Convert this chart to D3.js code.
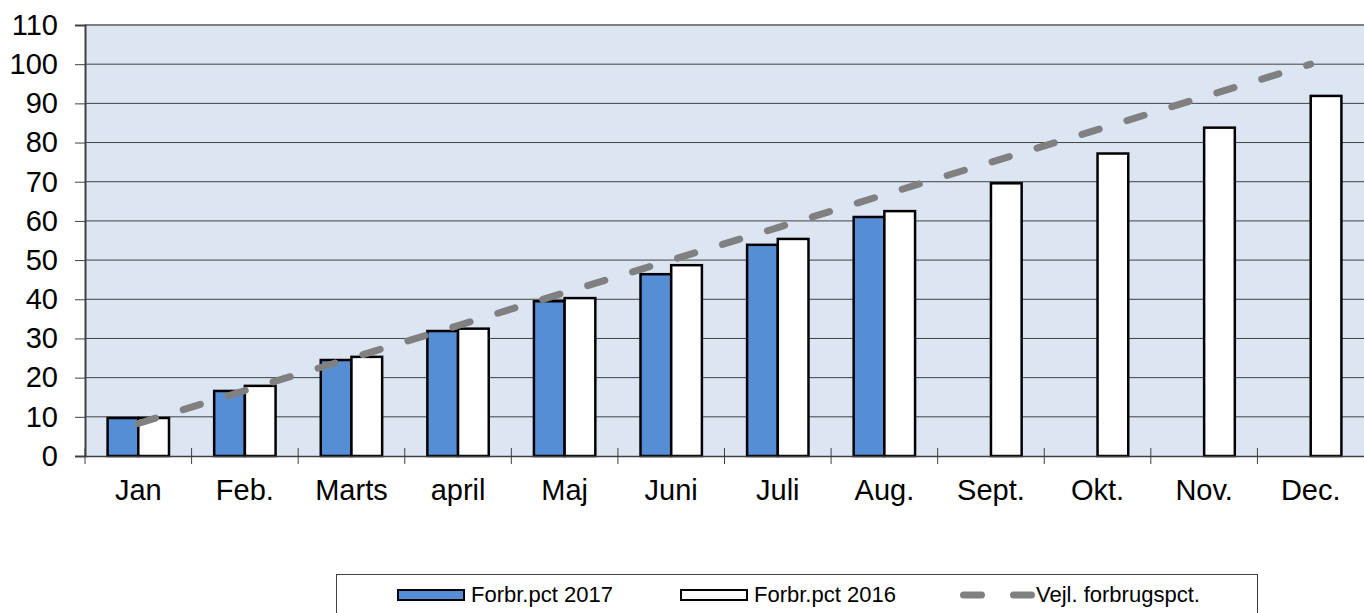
<!DOCTYPE html>
<html><head><meta charset="utf-8">
<script src="https://cdn.jsdelivr.net/npm/d3@7"></script>
<style>body{margin:0;background:#fff}svg{display:block;font-family:"Liberation Sans",Arial,sans-serif}</style>
</head><body><svg id="c" width="1364" height="613"></svg>
<script>
const categories = ["Jan","Feb.","Marts","april","Maj","Juni","Juli","Aug.","Sept.","Okt.","Nov.","Dec."];
const pct2017 = [9.7,16.6,24.5,31.9,39.5,46.4,53.9,61.0,null,null,null,null];
const pct2016 = [9.7,17.9,25.3,32.5,40.3,48.7,55.4,62.5,69.6,77.2,83.8,91.9];
const vejl = [8.3,16.7,25.0,33.3,41.7,50.0,58.3,66.7,75.0,83.3,91.7,100.0];
const yTicks = [0,10,20,30,40,50,60,70,80,90,100,110];
const seriesNames = ["Forbr.pct 2017","Forbr.pct 2016","Vejl. forbrugspct."];

const svg = d3.select("#c");
const L = 85, R = 1364, T = 25, B = 456;
const x = d3.scaleBand().domain(categories).range([L, R]);
const y = d3.scaleLinear().domain([0,110]).range([B, T]);
const barW = x.bandwidth()*0.288;
const FONT = "Liberation Sans, Arial, sans-serif";

svg.append("rect").attr("x",L).attr("y",T).attr("width",R-L).attr("height",B-T).attr("fill","#dce6f2");
// gridlines
svg.append("g").selectAll("line").data(yTicks.filter(d=>d>0)).join("line")
  .attr("x1",L).attr("x2",R).attr("y1",d=>y(d)).attr("y2",d=>y(d))
  .attr("stroke",d=>d===110?"#7f7f7f":"#404040").attr("stroke-width",d=>d===110?2:1);

// y axis
const ya = svg.append("g").attr("transform",`translate(${L},0)`)
  .call(d3.axisLeft(y).tickValues(yTicks).tickSize(10).tickPadding(17));
ya.select(".domain").attr("stroke","#404040").attr("stroke-width",2);
ya.selectAll(".tick line").attr("stroke","#404040");
ya.selectAll("text").attr("font-size",29).attr("fill","#000").attr("font-family",FONT);

// bars
const g = svg.append("g");
categories.forEach((c,i)=>{
  const cx = x(c)+x.bandwidth()/2;
  if (pct2017[i]!=null) g.append("rect").attr("x",cx-barW).attr("y",y(pct2017[i])).attr("width",barW).attr("height",B-y(pct2017[i]))
     .attr("fill","#558ed5").attr("stroke","#000").attr("stroke-width",2.5);
  g.append("rect").attr("x",cx).attr("y",y(pct2016[i])).attr("width",barW).attr("height",B-y(pct2016[i]))
     .attr("fill","#fff").attr("stroke","#000").attr("stroke-width",2.5);
});

// x axis
const xa = svg.append("g").attr("transform",`translate(0,${B})`)
  .call(d3.axisBottom(x).tickSize(0).tickPadding(23));
xa.select(".domain").attr("stroke","#404040").attr("stroke-width",1.5);
xa.selectAll("text").attr("font-size",29).attr("fill","#000").attr("font-family",FONT);
svg.append("g").selectAll("line").data(categories).join("line")
  .attr("x1",d=>x(d)).attr("x2",d=>x(d)).attr("y1",B-8).attr("y2",B+8).attr("stroke","#404040");

// line
const line = d3.line().x((d,i)=>x(categories[i])+x.bandwidth()/2).y(d=>y(d));
svg.append("path").datum(vejl).attr("d",line).attr("fill","none").attr("stroke","#808080")
  .attr("stroke-width",7).attr("stroke-linecap","round").attr("stroke-dasharray","18,29");

// legend
const lg = svg.append("g");
lg.append("rect").attr("x",336.5).attr("y",574.5).attr("width",921).attr("height",50).attr("fill","#fff").attr("stroke","#404040");
const ly = 595;
lg.append("rect").attr("x",398).attr("y",ly-5).attr("width",66).attr("height",10).attr("fill","#558ed5").attr("stroke","#000").attr("stroke-width",2);
lg.append("rect").attr("x",681).attr("y",ly-5).attr("width",66).attr("height",10).attr("fill","#fff").attr("stroke","#000").attr("stroke-width",2);
lg.append("line").attr("x1",963.5).attr("x2",1031.5).attr("y1",ly).attr("y2",ly).attr("stroke","#808080").attr("stroke-width",7)
  .attr("stroke-linecap","round").attr("stroke-dasharray","18,32");
const lt = [[471,seriesNames[0]],[754,seriesNames[1]],[1036,seriesNames[2]]];
lt.forEach(([tx,t])=>lg.append("text").attr("x",tx).attr("y",602).attr("font-size",22).attr("fill","#000").text(t));
</script></body></html>
